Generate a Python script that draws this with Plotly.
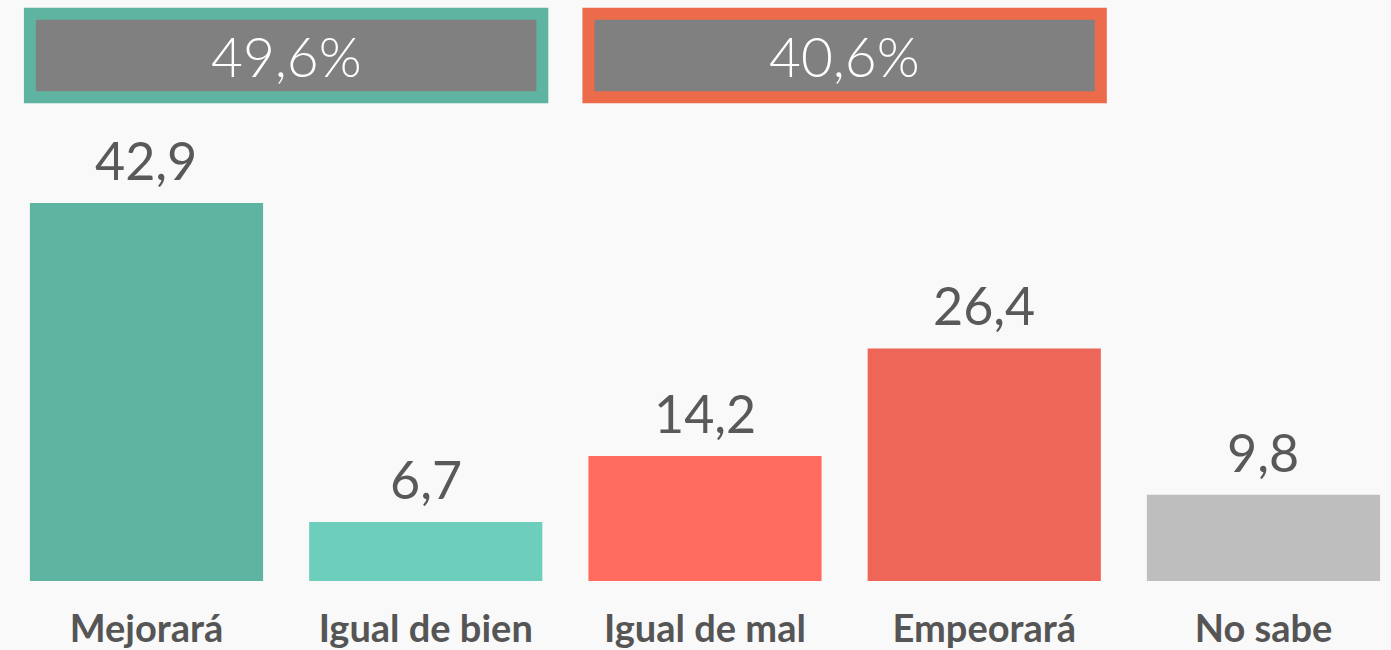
import plotly.graph_objects as go

categories = ["Mejorará", "Igual de bien", "Igual de mal", "Empeorará", "No sabe"]
values = [42.9, 6.7, 14.2, 26.4, 9.8]
bar_colors = ["#5FB3A1", "#6DCFBB", "#FF6B5F", "#EE6657", "#BEBEBE"]

group_members = [[0, 1], [2, 3]]
group_border_colors = ["#5FB3A1", "#EB6B4B"]

def fmt(v, pct=False):
    s = f"{v:.1f}".replace(".", ",")
    return s + ("%" if pct else "")

x_idx = list(range(len(categories)))

fig = go.Figure()
fig.add_trace(go.Bar(
    x=x_idx, y=values, marker=dict(color=bar_colors, line=dict(width=0)),
    width=0.835, hoverinfo="skip",
))

for i, v in enumerate(values):
    fig.add_annotation(
        x=i, y=v, text=fmt(v), showarrow=False, yanchor="bottom", yshift=10,
        font=dict(family="Lato", size=52, color="#595959"),
    )

box_y0, box_y1 = 54.9, 64.4
half = 0.4175
for members, col in zip(group_members, group_border_colors):
    total = sum(values[m] for m in members)
    x0 = members[0] - half
    x1 = members[-1] + half
    fig.add_shape(type="rect", xref="x", yref="y", x0=x0, x1=x1, y0=box_y0, y1=box_y1,
                  fillcolor="#808080", line=dict(color=col, width=12), layer="above")
    fig.add_annotation(
        x=(members[0] + members[-1]) / 2, y=(box_y0 + box_y1) / 2, text=fmt(total, True),
        showarrow=False, yanchor="middle",
        font=dict(family="Lato", size=55, color="#FFFFFF", weight=300),
    )

fig.update_layout(
    width=1391, height=650,
    margin=dict(l=0, r=0, t=0, b=69),
    paper_bgcolor="#F9F9F9", plot_bgcolor="#F9F9F9",
    showlegend=False,
    xaxis=dict(
        range=[-0.5246, 4.4566], tickmode="array", tickvals=x_idx, ticktext=categories,
        showgrid=False, zeroline=False, showline=False, ticks="",
        tickfont=dict(family="Lato", size=38, color="#555555", weight="bold"),
        ticklabelstandoff=22,
    ),
    yaxis=dict(range=[0, 65.95], visible=False, showgrid=False, zeroline=False),
)

fig.write_html("out.html", config={"displayModeBar": False},
               post_script="document.body.style.margin='0';document.body.style.background='#F9F9F9';")
